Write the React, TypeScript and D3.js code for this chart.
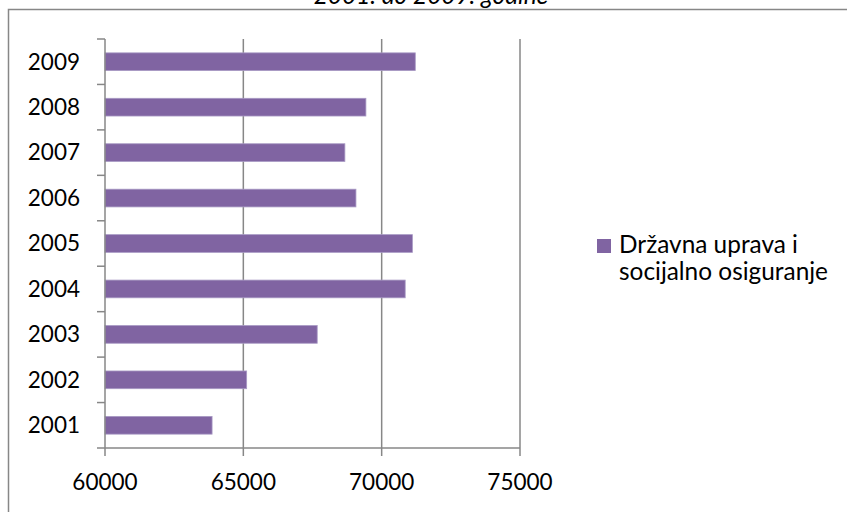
import React from "react";
import * as d3 from "d3";

const years = ["2001", "2002", "2003", "2004", "2005", "2006", "2007", "2008", "2009"];
const values = [63870, 65120, 67670, 70850, 71110, 69070, 68670, 69430, 71215];
const xTicks = [60000, 65000, 70000, 75000];
const seriesName = ["Državna uprava i", "socijalno osiguranje"];
const title = "2001. do 2009. godine";

const W = 847;
const H = 512;
const FONT = "Lato, 'Open Sans', sans-serif";

export default function App() {
  const x = d3.scaleLinear().domain([60000, 75000]).range([105, 520]);
  const yOrder = [...years].reverse();
  const y = d3
    .scaleBand<string>()
    .domain(yOrder)
    .range([39, 448])
    .paddingInner(0.61)
    .paddingOuter(0.305);
  const bandTicks = d3.range(years.length + 1).map((i) => 39 + i * ((448 - 39) / years.length));
  const axisColor = "#878787";

  return (
    <svg
      width={W}
      height={H}
      style={{ position: "absolute", left: 0, top: 0, overflow: "hidden", background: "#fff" }}
      fontFamily={FONT}
    >
      <rect x={0} y={0} width={W} height={H} fill="#fff" />
      <text x={431} y={4} textAnchor="middle" fontSize={24.4} fontStyle="italic" fill="#000">
        {title}
      </text>
      <rect x={8.5} y={9.5} width={1000} height={700} fill="none" stroke={axisColor} strokeWidth={1.5} />
      {/* gridlines */}
      {xTicks.slice(1).map((t) => (
        <line key={t} x1={x(t)} x2={x(t)} y1={39} y2={448} stroke={axisColor} strokeWidth={1.5} />
      ))}
      {/* bars */}
      {years.map((yr, i) => (
        <rect
          key={yr}
          x={x(60000)}
          y={y(yr)}
          width={x(values[i]) - x(60000)}
          height={y.bandwidth()}
          fill="#8064A2"
          stroke="#A899C4"
          strokeWidth={0.8}
        />
      ))}
      {/* y axis */}
      <line x1={105} x2={105} y1={39} y2={448} stroke={axisColor} strokeWidth={1.5} />
      {bandTicks.map((t, i) => (
        <line key={i} x1={97} x2={105} y1={t} y2={t} stroke={axisColor} strokeWidth={1.5} />
      ))}
      {yOrder.map((yr) => (
        <text
          key={yr}
          x={80}
          y={(y(yr) as number) + y.bandwidth() / 2}
          dy="0.35em"
          textAnchor="end"
          fontSize={22.5}
          fill="#000"
        >
          {yr}
        </text>
      ))}
      {/* x axis */}
      <line x1={105} x2={x(75000)} y1={448} y2={448} stroke={axisColor} strokeWidth={1.5} />
      {xTicks.map((t) => (
        <g key={t}>
          <line x1={x(t)} x2={x(t)} y1={448} y2={456} stroke={axisColor} strokeWidth={1.5} />
          <text x={x(t)} y={490} textAnchor="middle" fontSize={22.5} fill="#000">
            {t}
          </text>
        </g>
      ))}
      {/* legend */}
      <rect x={597} y={239} width={14} height={14} fill="#8064A2" />
      <text x={619} y={253} fontSize={24.4} fill="#000">
        {seriesName[0]}
      </text>
      <text x={619} y={280} fontSize={24.4} fill="#000">
        {seriesName[1]}
      </text>
    </svg>
  );
}
